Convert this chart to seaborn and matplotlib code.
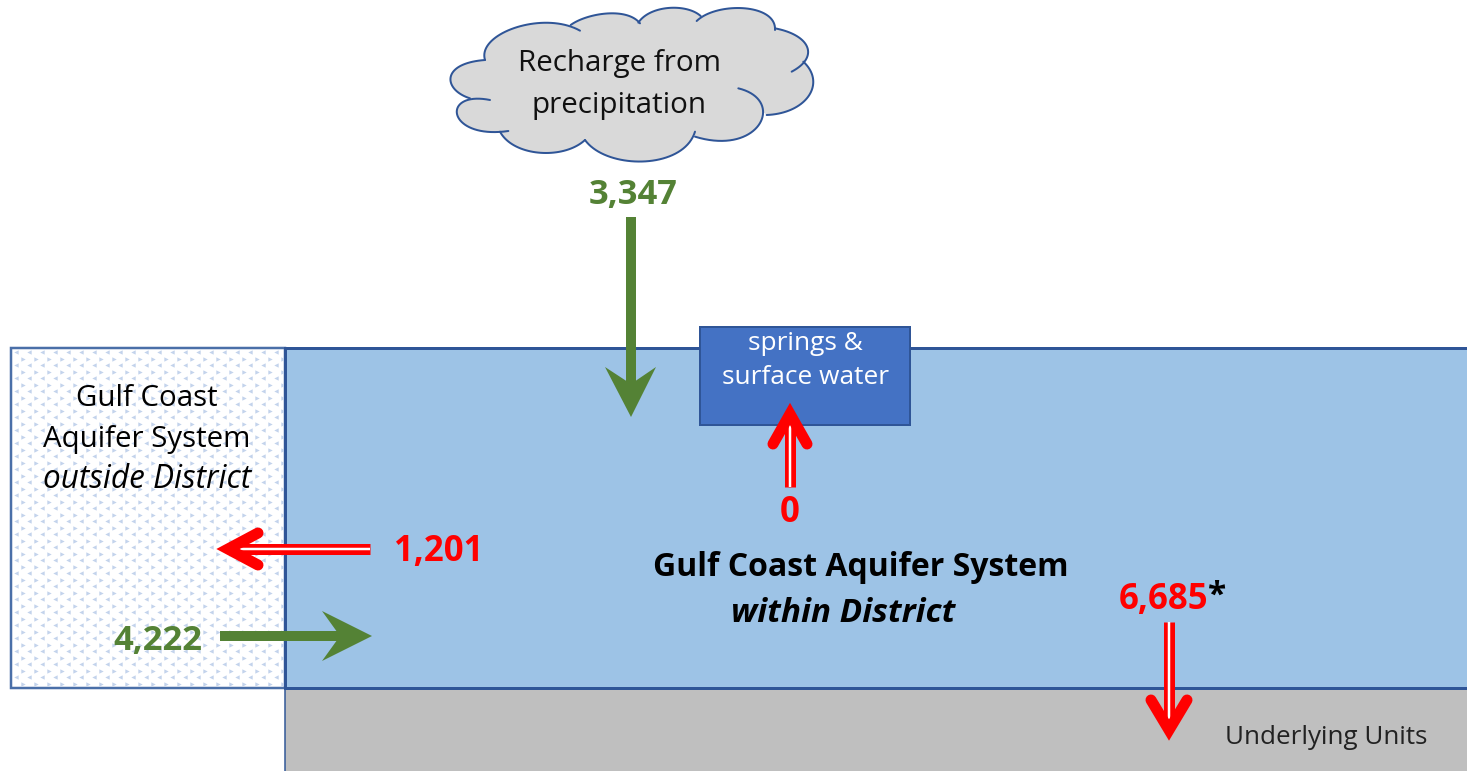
import numpy as np
import seaborn as sns
import matplotlib
matplotlib.use("Agg")
import matplotlib.pyplot as plt
from matplotlib.patches import Rectangle

# ---- values
recharge = 3347
springs_flow = 0
lateral_out = 1201
lateral_in = 4222
to_underlying = 6685

cloud_lines = ["Recharge from", "precipitation"]
outside_lines = ["Gulf Coast", "Aquifer System"]
outside_italic = "outside District"
springs_lines = ["springs &", "surface water"]
within_bold = "Gulf Coast Aquifer System"
within_italic = "within District"
underlying_label = "Underlying Units"

# ---- colours
GREEN = "#548235"
RED = "#ff0000"
AQUIFER = "#9dc3e6"
EDGE = "#2f5597"

sns.set_theme(style="white")
plt.rcParams["font.family"] = ["Open Sans", "DejaVu Sans"]

fig, ax = plt.subplots(figsize=(14.67, 7.71), dpi=100)
fig.subplots_adjust(0, 0, 1, 1)
px = 0.72  # one image pixel in points


def bezier(p0, c1, c2, p3, n=40):
    # one cloud lobe, control points measured on a 3x crop starting at x=440
    t = np.linspace(0, 1, n)[:, None]
    p = [np.array(q, dtype=float) / 3 + [440, 0] for q in (p0, c1, c2, p3)]
    return (1 - t) ** 3 * p[0] + 3 * (1 - t) ** 2 * t * p[1] + 3 * (1 - t) * t ** 2 * p[2] + t ** 3 * p[3]


def shaft(xs, ys, double=False, color=GREEN, width=10):
    sns.lineplot(x=xs, y=ys, ax=ax, color=color, linewidth=width * px, sort=False,
                 estimator=None, solid_capstyle="butt", legend=False, zorder=6)
    if double:
        sns.lineplot(x=xs, y=ys, ax=ax, color="white", linewidth=2.5 * px, sort=False,
                     estimator=None, solid_capstyle="butt", legend=False, zorder=6.1)


def red_head(xs, ys):
    sns.lineplot(x=xs, y=ys, ax=ax, color=RED, linewidth=11 * px, sort=False, estimator=None,
                 solid_capstyle="round", solid_joinstyle="miter", legend=False, zorder=6.2)


# ---- boxes
ax.add_patch(Rectangle((11, 348), 274, 340, fc="white", ec="#4a6fa8", lw=2.5 * px, zorder=1))
ax.add_patch(Rectangle((285, 688), 1190, 90, fc="#bfbfbf", ec=EDGE, lw=1.5 * px, zorder=1))
ax.add_patch(Rectangle((285, 348), 1190, 340, fc=AQUIFER, ec=EDGE, lw=3 * px, zorder=2))
ax.add_patch(Rectangle((700, 327), 210, 98, fc="#4472c4", ec=EDGE, lw=2 * px, zorder=3))

# dotted texture in the box outside the district
gx, gy = np.meshgrid(np.arange(16, 282, 13.0), np.arange(352, 685, 6.5))
gx[1::2] += 6.5
sns.scatterplot(x=gx[::2].ravel(), y=gy[::2].ravel(), ax=ax, marker="<", s=10, color="#c3d3ec",
                linewidth=0, legend=False, zorder=1.5)
sns.scatterplot(x=gx[1::2].ravel(), y=gy[1::2].ravel(), ax=ax, marker=">", s=10, color="#c3d3ec",
                linewidth=0, legend=False, zorder=1.5)

# ---- cloud, one lobe at a time, ends run on into the cloud like the picture
lobes = [
    [(135, 180), (110, 100), (310, 30), (420, 92)],
    [(392, 75), (440, 40), (560, 20), (600, 70)],
    [(595, 68), (630, 15), (740, 10), (782, 48)],
    [(770, 63), (830, 5), (1010, 10), (1005, 90)],
    [(1005, 85), (1110, 105), (1140, 170), (1055, 215)],
    [(1090, 185), (1160, 250), (1100, 340), (980, 345)],
    [(895, 265), (1040, 300), (960, 470), (765, 410)],
    [(765, 395), (730, 510), (500, 510), (435, 420)],
    [(435, 420), (370, 480), (220, 470), (180, 395)],
    [(205, 393), (20, 420), (0, 270), (150, 300)],
    [(90, 295), (10, 270), (0, 190), (135, 180)],
]
curves = [bezier(*l) for l in lobes]
outline = np.vstack(curves)
ax.fill(outline[:, 0], outline[:, 1], color="#d9d9d9", lw=0, zorder=4)
for c in curves:
    ax.plot(c[:, 0], c[:, 1], color=EDGE, lw=2 * px, zorder=4.5, solid_capstyle="round")

# ---- arrows
shaft([631, 631], [217, 385])
ax.fill([631, 605, 631, 656], [417, 367, 384, 367], color=GREEN, lw=0, zorder=6)

shaft([220, 342], [636, 636])
ax.fill([372, 322, 340, 322], [636, 611, 636, 661], color=GREEN, lw=0, zorder=6)

shaft([370, 240], [549, 549], double=True, color=RED, width=11)
red_head([258, 228, 258], [533, 549, 565])

shaft([790, 790], [487, 425], double=True, color=RED, width=11)
red_head([773, 790, 807], [444, 414, 444])

shaft([1169, 1169], [622, 725], double=True, color=RED, width=11)
red_head([1151, 1169, 1187], [700, 730, 700])

# ---- text
def label(x, y, s, size=22, **kw):
    kw.setdefault("color", "black")
    ax.text(x, y, s, fontsize=size, ha="center", va="center", zorder=8, **kw)


for y, s in zip([64, 105], cloud_lines):
    label(619, y, s, size=21.3, color="#111111")
for y, s in zip([399, 440], outside_lines):
    label(147, y, s, size=21.2)
label(147, 480, outside_italic, size=22.7, style="italic")
for y, s in zip([343, 378], springs_lines):
    label(805, y, s, size=18.9, color="white")
label(861, 568, within_bold, size=23, weight="bold")
label(843, 614, within_italic, size=24, weight="bold", style="italic")
label(1326, 738, underlying_label, size=18.7, color="#222222")

label(633, 195, f"{recharge:,}", size=24.8, color=GREEN, weight="bold")
label(158, 641, f"{lateral_in:,}", size=24.8, color=GREEN, weight="bold")
label(439, 552, f"{lateral_out:,}", size=25, color=RED, weight="bold")
label(790, 513, f"{springs_flow:,}", size=25, color=RED, weight="bold")
label(1164, 600, f"{to_underlying:,}", size=25, color=RED, weight="bold")
label(1217, 596, "*", size=24, weight="bold")

ax.set_xlim(0, 1467)
ax.set_ylim(771, 0)
ax.axis("off")
fig.savefig("out.png", dpi=100)
